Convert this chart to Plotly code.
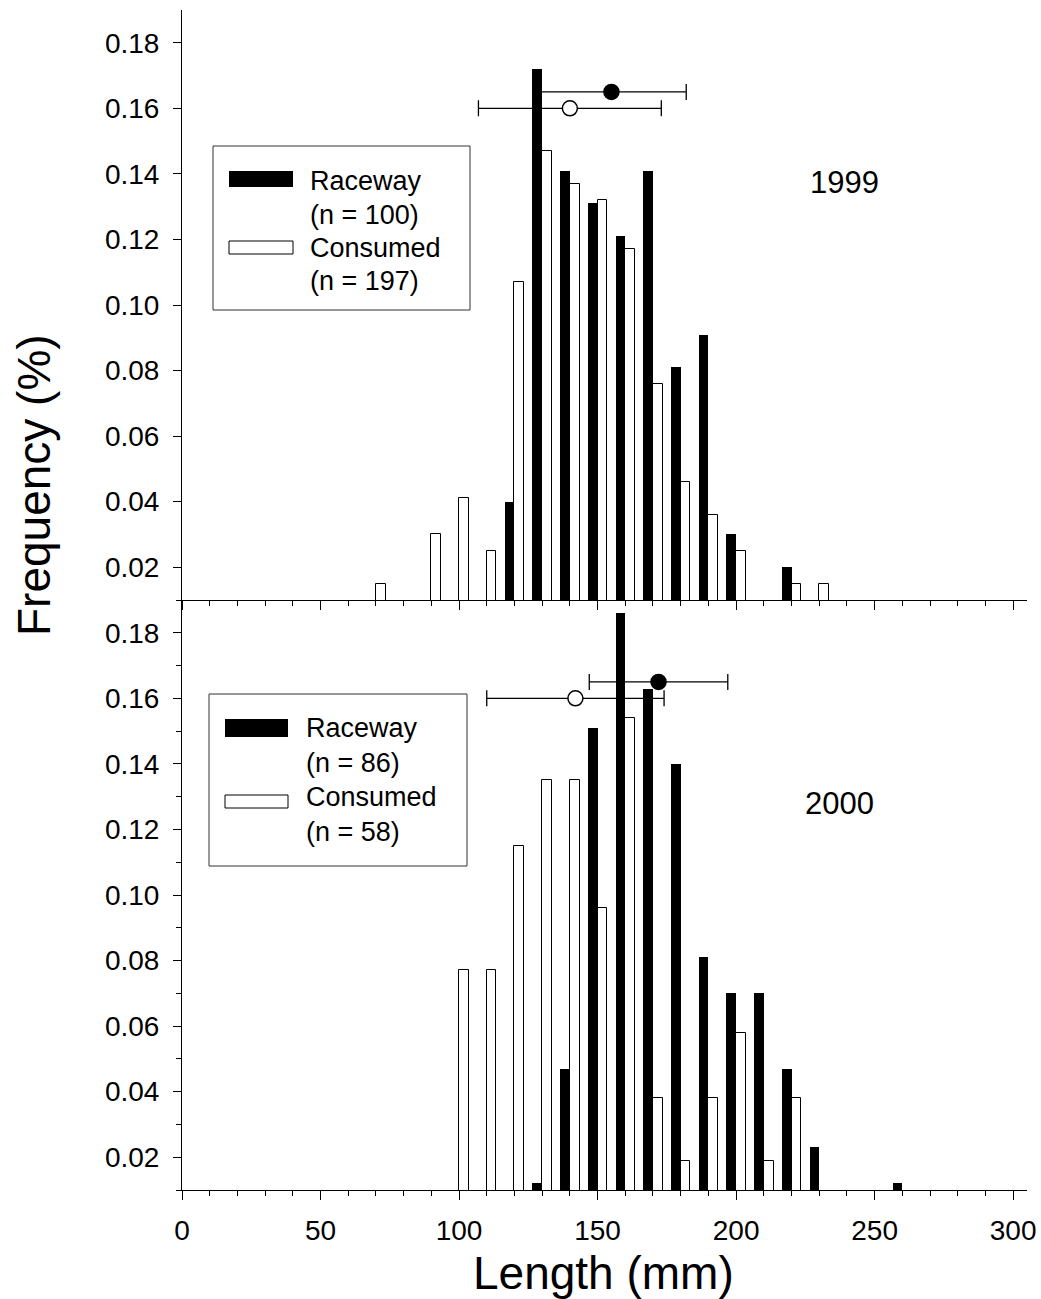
import plotly.graph_objects as go

# Length bins (mm); each bin's bars sit on either side of its tick
bins_1999_raceway = [120, 130, 140, 150, 160, 170, 180, 190, 200, 220]
freq_1999_raceway = [0.040, 0.172, 0.141, 0.131, 0.121, 0.141, 0.081, 0.091, 0.030, 0.020]
bins_1999_consumed = [70, 90, 100, 110, 120, 130, 140, 150, 160, 170, 180, 190, 200, 220, 230]
freq_1999_consumed = [0.015, 0.030, 0.041, 0.025, 0.107, 0.147, 0.137, 0.132, 0.117, 0.076,
                      0.046, 0.036, 0.025, 0.015, 0.015]

bins_2000_raceway = [130, 140, 150, 160, 170, 180, 190, 200, 210, 220, 230, 260]
freq_2000_raceway = [0.012, 0.047, 0.151, 0.186, 0.163, 0.140, 0.081, 0.070, 0.070, 0.047, 0.023, 0.012]
bins_2000_consumed = [100, 110, 120, 130, 140, 150, 160, 170, 180, 190, 200, 210, 220]
freq_2000_consumed = [0.077, 0.077, 0.115, 0.135, 0.135, 0.096, 0.154, 0.038, 0.019, 0.038,
                      0.058, 0.019, 0.038]

# Mean length +/- SD, drawn as points with horizontal error bars
mean_1999 = {"Raceway": (155, 27, 0.165), "Consumed": (140, 33, 0.160)}
mean_2000 = {"Raceway": (172, 25, 0.165), "Consumed": (142, 32, 0.160)}

legend_1999 = ["Raceway", "(n = 100)", "Consumed", "(n = 197)"]
legend_2000 = ["Raceway", "(n = 86)", "Consumed", "(n = 58)"]
year_labels = ["1999", "2000"]

FONT = "Liberation Sans, Arial, sans-serif"
W, H = 1041, 1299
L, R, T, B = 182, 14, 10, 109
PW, PH = W - L - R, H - T - B
BW = 3.5

def px(x):
    return (x - L) / PW

def py(y):
    return (H - B - y) / PH

fig = go.Figure()

def add_panel(xa, ya, rb, rv, cb, cv, means):
    fig.add_trace(go.Bar(x=rb, y=rv, width=BW, offset=-BW, xaxis=xa, yaxis=ya,
                         marker=dict(color="black", line=dict(color="black", width=0)),
                         showlegend=False))
    fig.add_trace(go.Bar(x=cb, y=cv, width=BW, offset=0, xaxis=xa, yaxis=ya,
                         marker=dict(color="white", line=dict(color="black", width=1)),
                         showlegend=False))
    for name, (m, sd, yv) in means.items():
        filled = name == "Raceway"
        fig.add_trace(go.Scatter(
            x=[m], y=[yv], xaxis=xa, yaxis=ya, mode="markers", showlegend=False,
            error_x=dict(type="data", array=[sd], symmetric=True, color="black",
                         thickness=1.3, width=8),
            marker=dict(size=15, color="black" if filled else "white",
                        line=dict(color="black", width=1.5))))

add_panel("x2", "y2", bins_1999_raceway, freq_1999_raceway,
          bins_1999_consumed, freq_1999_consumed, mean_1999)
add_panel("x", "y", bins_2000_raceway, freq_2000_raceway,
          bins_2000_consumed, freq_2000_consumed, mean_2000)

tickfont = dict(family=FONT, size=28, color="black")
xcommon = dict(range=[0, 305], tickvals=list(range(0, 301, 50)), ticks="outside", ticklen=9,
               tickwidth=1, tickcolor="black", showline=True, linecolor="black", linewidth=1,
               showgrid=False, zeroline=False, tickfont=tickfont, automargin=False,
               ticklabelstandoff=6,
               minor=dict(dtick=10, tick0=0, ticks="outside", ticklen=5, tickcolor="black",
                          tickwidth=1, showgrid=False))
ycommon = dict(range=[0.01, 0.19], tickvals=[0.02, 0.04, 0.06, 0.08, 0.10, 0.12, 0.14, 0.16, 0.18],
               tickformat=".2f", ticks="outside", ticklen=8, tickwidth=1, tickcolor="black",
               showline=True, linecolor="black", linewidth=1, showgrid=False, zeroline=False,
               tickfont=tickfont, ticklabelstandoff=8, automargin=False)

fig.update_layout(
    width=W, height=H, margin=dict(l=L, r=R, t=T, b=B, autoexpand=False),
    plot_bgcolor="white", paper_bgcolor="white", barmode="overlay", bargap=0,
    xaxis=dict(**xcommon, anchor="y", domain=[0, 1]),
    xaxis2=dict(**xcommon, anchor="y2", domain=[0, 1], matches="x", showticklabels=False),
    yaxis=dict(**ycommon, domain=[0, 0.5], anchor="x",
               minor=dict(dtick=0.01, tick0=0.01, ticks="outside", ticklen=5,
                          tickcolor="black", tickwidth=1, showgrid=False)),
    yaxis2=dict(**ycommon, domain=[0.5, 1], anchor="x2"),
)

shapes = []
annotations = []

def legend_block(box, black_sw, white_sw, text_x, text_ys, labels):
    shapes.append(dict(type="rect", xref="paper", yref="paper",
                       x0=px(box[0]), x1=px(box[2]), y0=py(box[3]), y1=py(box[1]),
                       line=dict(color="#333333", width=1), fillcolor="rgba(0,0,0,0)"))
    shapes.append(dict(type="rect", xref="paper", yref="paper",
                       x0=px(black_sw[0]), x1=px(black_sw[2]), y0=py(black_sw[3]), y1=py(black_sw[1]),
                       line=dict(color="black", width=0), fillcolor="black"))
    shapes.append(dict(type="rect", xref="paper", yref="paper",
                       x0=px(white_sw[0]), x1=px(white_sw[2]), y0=py(white_sw[3]), y1=py(white_sw[1]),
                       line=dict(color="black", width=1), fillcolor="white"))
    for ty, lab in zip(text_ys, labels):
        annotations.append(dict(text=lab, xref="paper", yref="paper", x=px(text_x), y=py(ty),
                                xanchor="left", yanchor="middle", showarrow=False,
                                font=dict(family=FONT, size=27, color="black")))

legend_block((213, 146, 470, 310), (229, 171, 293, 187), (229, 241, 293, 254),
             308, [181, 215, 248, 281], legend_1999)
legend_block((209, 694, 467, 866), (225, 719, 288, 737), (225, 795, 288, 808),
             304, [728, 763, 797, 832], legend_2000)

annotations.append(dict(text=year_labels[0], xref="paper", yref="paper", x=px(844), y=py(183),
                        xanchor="center", yanchor="middle", showarrow=False,
                        font=dict(family=FONT, size=31, color="black")))
annotations.append(dict(text=year_labels[1], xref="paper", yref="paper", x=px(839), y=py(803),
                        xanchor="center", yanchor="middle", showarrow=False,
                        font=dict(family=FONT, size=31, color="black")))

annotations.append(dict(text="Frequency (%)", xref="paper", yref="paper", x=px(34), y=py(485),
                        xanchor="center", yanchor="middle", textangle=-90, showarrow=False,
                        font=dict(family=FONT, size=46, color="black")))
annotations.append(dict(text="Length (mm)", xref="paper", yref="paper", x=px(603), y=py(1273),
                        xanchor="center", yanchor="middle", showarrow=False,
                        font=dict(family=FONT, size=46, color="black")))

fig.update_layout(shapes=shapes, annotations=annotations)
fig.write_html("out.html")
